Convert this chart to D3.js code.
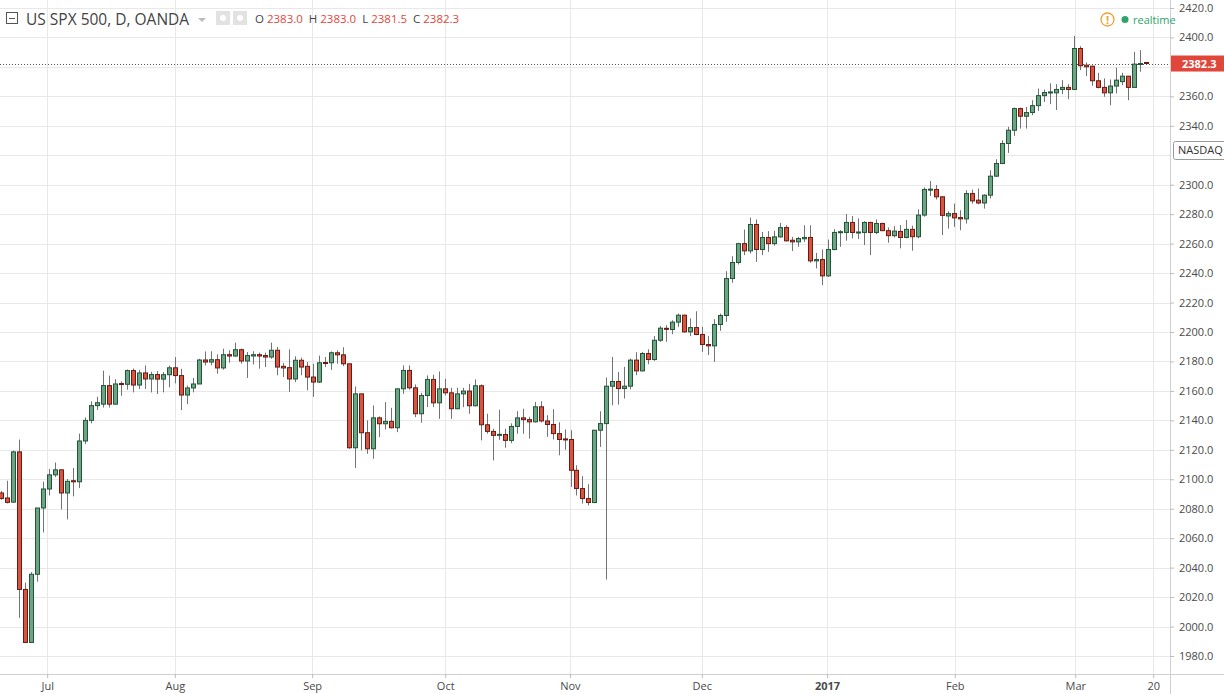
<!DOCTYPE html>
<html><head><meta charset="utf-8">
<script src="https://cdn.jsdelivr.net/npm/d3@7"></script>
<style>body{margin:0;background:#fff;font-family:"Open Sans",Roboto,sans-serif}</style>
</head><body><svg id="c" width="1224" height="694"></svg>
<script>
const opens=[2090.7,2087.3,2084.5,2118.6,2025.2,1989.2,2035.5,2080.5,2093.4,2103,2106.4,2090.7,2099,2098.3,2126,2140,2150,2151,2163.6,2151,2165,2164.5,2173.8,2164,2172.2,2168.1,2171.1,2168,2171,2175.7,2170.4,2157.2,2162,2164.7,2181,2179.6,2181.2,2175.6,2184.6,2183.7,2188,2180.3,2183.7,2184.6,2184,2183,2187.6,2176.7,2175.8,2168.1,2180.8,2176.7,2169.4,2166,2179.3,2179.1,2185.9,2184.5,2178.4,2121.4,2158,2131.6,2120.7,2141.7,2137.7,2139.3,2135,2161.4,2173.9,2162.1,2144.5,2156.9,2167.8,2151.9,2161.4,2158.7,2147.9,2158,2159.9,2149.9,2163.5,2137,2132.5,2129.9,2130.4,2126.4,2135.9,2141.7,2140.5,2139,2149.2,2139.6,2137.2,2131,2127.4,2127,2106.1,2093.7,2086.9,2084.2,2133.3,2137.8,2163.2,2166.4,2161.6,2163.2,2180.9,2173.6,2185.4,2181.3,2194.4,2202.5,2201.7,2206.7,2211.4,2200.1,2203,2198.3,2191.5,2190.6,2205.1,2211.2,2236.3,2247.2,2260,2255.1,2273,2256,2264.2,2260,2264.6,2270.9,2262.3,2261.2,2263.3,2264.2,2248.3,2249.2,2238.1,2256,2267.4,2267.6,2274.4,2267.6,2267.6,2274.4,2267.6,2273.7,2268.8,2265.4,2268.3,2264.2,2269.7,2264.7,2279.4,2296.7,2296.8,2291.8,2278.8,2280.4,2277.7,2276.8,2294,2289.5,2287.6,2292.9,2305.8,2314.4,2328,2337,2351.7,2346.5,2349,2353.7,2360.5,2362.6,2362.4,2364.7,2366.1,2364.7,2392.5,2381.2,2380.5,2370.6,2366.1,2362.4,2367,2370,2373.7,2366.1,2381.9,2383];
const highs=[2092,2099,2119.5,2127,2029.8,2037,2080.5,2098.4,2107,2111.4,2106.6,2100.2,2107.7,2131,2142,2153,2156,2173.8,2170.4,2168,2166.5,2174.5,2175.2,2174.3,2177.3,2173,2173.5,2172.8,2177.3,2183,2175,2163.6,2168.8,2181.8,2186.8,2186.9,2184.8,2188.7,2187.6,2192.8,2188.7,2186.4,2186.9,2186,2186,2192.8,2189.8,2179,2188.2,2183.5,2182.6,2179.6,2178.5,2184,2183,2186.8,2187.5,2189.7,2178.4,2163,2158,2140,2150.1,2142.7,2152.4,2148.5,2161.4,2177.3,2177.3,2164.4,2158.7,2170.5,2171,2173.2,2168.2,2162.1,2162.1,2162.1,2164.8,2167.8,2164.4,2144.5,2134.3,2147.2,2134.3,2138,2146.3,2147.9,2142.4,2152.5,2153,2143.5,2147.6,2138.7,2133.8,2133.3,2109.5,2102.1,2096.6,2133.3,2146.2,2169.1,2183.1,2172.9,2176.3,2182,2186.3,2186.5,2188.3,2197.2,2204,2204.6,2208,2212.5,2211.8,2209.2,2214.1,2203.5,2197.2,2208.7,2212.5,2241.3,2251.5,2260.5,2269.6,2277.7,2276.4,2268,2268.5,2268.7,2274.1,2272.5,2264.6,2264.6,2272.5,2272.5,2253.7,2256,2262.8,2269.8,2269.2,2280.1,2278.7,2277.1,2275.3,2274.8,2276.5,2274.2,2271,2271.9,2272.6,2276,2272.2,2283.3,2298.2,2302.5,2299.8,2292.2,2282,2287.2,2282.7,2296.3,2296.7,2297.4,2293.5,2309.8,2317.3,2330.2,2339.3,2352.4,2352.4,2352.8,2357.4,2365.3,2364.6,2368.8,2368.3,2371,2368.3,2401.1,2394.1,2383,2380.8,2376,2372.2,2371.5,2379.4,2376,2373.9,2390.3,2391.4,2383];
const lows=[2086,2083.6,2084,2005.9,1989,1989,2030.5,2063.9,2089,2101.4,2079.5,2072.7,2088.4,2094,2124,2138,2147,2148.7,2148.7,2151,2156.7,2160.8,2159,2161.3,2161.3,2159,2157.9,2159,2162.4,2165.2,2146.9,2151,2159,2164.7,2177.3,2177.4,2171.7,2174.4,2179.2,2183.2,2178.5,2168.8,2178,2175.1,2176.2,2181.9,2170.6,2169.4,2159.3,2166,2170.6,2160.4,2155.9,2165.3,2176.2,2174.3,2178.4,2176.8,2120.7,2107.6,2119.6,2117.3,2113.9,2128.6,2133.8,2134.5,2132,2158,2160.8,2142.2,2138.4,2149,2149,2141,2156.9,2141,2147.5,2149,2144.5,2149.5,2126.4,2130.9,2112.8,2126.8,2121.4,2124.5,2130.9,2130.9,2127.6,2138.6,2138.6,2128.8,2127,2116.3,2120,2094.8,2089,2083.5,2082.2,2083.8,2122,2031.9,2150.3,2150.7,2154.8,2161,2170.7,2173.2,2178.1,2180.4,2193.3,2193.3,2198.5,2203.5,2199.4,2197.2,2197.8,2186.5,2184.3,2179.7,2200.8,2206.9,2233.4,2245.8,2252.2,2253.3,2247.6,2252.2,2254.4,2258.5,2264,2261.5,2255,2257.8,2261.2,2247,2243.1,2231.8,2237.4,2255.5,2257.9,2262,2263.6,2263.1,2259,2252.2,2266.5,2268.5,2260.6,2264.2,2256.8,2263.6,2255.2,2263.6,2278.3,2292.3,2290,2265.8,2270.2,2271.4,2269.1,2273.6,2287.2,2286.7,2283.8,2290.6,2305.3,2314,2321.6,2333.1,2338.1,2338.1,2347.2,2350.1,2356.2,2354.7,2350.7,2361.5,2358.1,2364.5,2377.8,2373.7,2367.2,2365.4,2359.7,2354,2362,2367.6,2357.4,2365.8,2376.7,2381.5];
const closes=[2087,2084.3,2118.6,2025.2,1989.2,2035.5,2080.5,2093.4,2103,2106.4,2090.7,2098.6,2098.3,2126,2140,2150,2152,2163.6,2151,2164.7,2164.5,2173.8,2164,2172.2,2168.1,2171.1,2168,2171,2175.7,2170.4,2157.2,2162,2164.7,2181,2179.6,2181.2,2175.6,2184.6,2183.7,2188,2180.3,2184,2184.6,2183.7,2183,2187.6,2176.2,2175.6,2168.1,2180.8,2176.2,2169.4,2166,2179.1,2179,2185.9,2184.5,2178.4,2121.4,2158,2131.6,2120.7,2141.7,2137.7,2139.3,2135,2161.4,2173.9,2162.1,2144.5,2156.9,2167.8,2151.9,2161.4,2158.7,2147.9,2158,2159.9,2149.9,2163.5,2137,2132.5,2129.8,2130.5,2126.4,2135.9,2141.7,2140.5,2139,2149.2,2139.6,2137.2,2131,2127,2127.1,2106.1,2093.7,2086.9,2084.2,2133.3,2137.8,2163.2,2166.4,2161.6,2163.2,2180.9,2173.6,2185.4,2181.3,2194.4,2202.6,2202.2,2206.7,2211.4,2200.1,2203,2198.3,2191.5,2190.6,2205.1,2211.2,2236.3,2247.2,2260,2255.1,2273,2256,2264.2,2260,2264.6,2270.9,2261.9,2261.2,2263.5,2264.2,2248.3,2249.2,2238.1,2256,2267.6,2268.1,2274.4,2267.6,2267.9,2274.4,2267.6,2273.7,2268.8,2265.4,2268.5,2264.2,2269.7,2264.7,2279.4,2296.8,2297,2291.8,2279.2,2280.4,2277.5,2276.8,2294,2289,2287.6,2292.9,2305.8,2314.4,2328,2337,2351.7,2346.5,2349,2353.7,2360.5,2362.6,2363,2364.7,2366.1,2364.7,2392.5,2380.8,2380.1,2370.6,2366.1,2362.4,2367,2371,2373.7,2366.1,2381.9,2382.3,2382.3];
const monthLabels=["Jul","Aug","Sep","Oct","Nov","Dec","2017","Feb","Mar","20"];
const monthIdx=[7.7,29,51.9,74.1,94.9,116.9,137.8,159.1,179.2,192.2];
const priceTicks=d3.range(1980,2421,20);
const hiddenTicks=[2380,2320];
const lastPrice=2382.3;

const svg=d3.select("#c");
const plotR=1170, plotB=674;
const x=d3.scaleLinear().domain([0,opens.length-1]).range([1,1146]);
const y=d3.scaleLinear().domain([1980,2420]).range([656,8]);

svg.append("g").selectAll("line").data(priceTicks).join("line")
 .attr("x1",0).attr("x2",plotR).attr("y1",d=>Math.round(y(d))+0.5).attr("y2",d=>Math.round(y(d))+0.5)
 .attr("stroke","#e8e8e8");
svg.append("g").selectAll("line").data(monthIdx).join("line")
 .attr("x1",d=>Math.round(x(d))+0.5).attr("x2",d=>Math.round(x(d))+0.5).attr("y1",0).attr("y2",plotB)
 .attr("stroke","#e8e8e8");

svg.append("line").attr("x1",plotR+0.5).attr("x2",plotR+0.5).attr("y1",0).attr("y2",694).attr("stroke","#d0d0d0");
svg.append("line").attr("x1",0).attr("x2",1224).attr("y1",plotB+0.5).attr("y2",plotB+0.5).attr("stroke","#d0d0d0");

const shown=priceTicks.filter(t=>!hiddenTicks.includes(t));
const ya=d3.axisRight(y).tickValues(shown).tickFormat(d=>d.toFixed(1)).tickSize(4);
const ga=svg.append("g").attr("transform",`translate(${plotR},0)`).call(ya);
ga.select(".domain").remove();
ga.selectAll("line").attr("stroke","#bbb");
ga.selectAll("text").attr("x",9).attr("fill","#4a4a4a").style("font-size","11px").style("font-family","Open Sans, sans-serif");

const xa=d3.axisBottom(x).tickValues(monthIdx).tickFormat((d,i)=>monthLabels[i]).tickSize(4);
const gx=svg.append("g").attr("transform",`translate(0,${plotB})`).call(xa);
gx.select(".domain").remove();
gx.selectAll("line").attr("stroke","#bbb");
gx.selectAll("text").attr("y",8).attr("fill","#4a4a4a").style("font-size","11px").style("font-family","Open Sans, sans-serif")
 .style("font-weight",(d,i)=>monthLabels[i]==="2017"?"bold":"normal");

svg.append("line").attr("x1",0).attr("x2",plotR).attr("y1",Math.round(y(lastPrice))+0.5).attr("y2",Math.round(y(lastPrice))+0.5)
 .attr("stroke","#555").attr("stroke-dasharray","1,2");

const data=opens.map((o,i)=>({i,o,h:highs[i],l:lows[i],c:closes[i]}));
const g=svg.append("g");
g.selectAll("line").data(data).join("line")
 .attr("x1",d=>Math.round(x(d.i))+0.5).attr("x2",d=>Math.round(x(d.i))+0.5)
 .attr("y1",d=>y(d.h)).attr("y2",d=>y(d.l)).attr("stroke","#737375");
g.selectAll("rect").data(data).join("rect")
 .attr("x",d=>Math.round(x(d.i))-1.5).attr("width",4)
 .attr("y",d=>y(Math.max(d.o,d.c))).attr("height",d=>Math.max(1,Math.abs(y(d.o)-y(d.c))))
 .attr("fill",d=>d.c>=d.o?"#6ba583":"#d75442")
 .attr("stroke",d=>d.c>=d.o?"#225437":"#6b1a12").attr("stroke-width",1);

const py=y(lastPrice);
svg.append("rect").attr("x",plotR+1).attr("y",py-8).attr("width",54).attr("height",16).attr("fill","#e0473a");
svg.append("text").attr("x",plotR+12).attr("y",py+4).text(lastPrice.toFixed(1)).attr("fill","#fff")
 .style("font-size","11px").style("font-weight","bold");
svg.append("rect").attr("x",plotR+3.5).attr("y",141.5).attr("width",60).attr("height",18).attr("fill","#fff").attr("stroke","#999").attr("rx",2);
svg.append("text").attr("x",plotR+8).attr("y",154).text("NASDAQ").attr("fill","#333").style("font-size","11px");

svg.append("rect").attr("x",6.5).attr("y",12.5).attr("width",11).attr("height",11).attr("fill","none").attr("stroke","#555");
svg.append("line").attr("x1",9).attr("x2",15).attr("y1",18.5).attr("y2",18.5).attr("stroke","#555");
svg.append("text").attr("x",26).attr("y",25).text("US SPX 500, D, OANDA").attr("fill","#444").style("font-size","15.5px");
svg.append("path").attr("d","M198,18 L206,18 L202,22 Z").attr("fill","#bbb");
svg.append("rect").attr("x",216).attr("y",11).attr("width",14).attr("height",14).attr("fill","#e2e2e2");
svg.append("rect").attr("x",233).attr("y",11).attr("width",14).attr("height",14).attr("fill","#e2e2e2");
svg.append("circle").attr("cx",223).attr("cy",18).attr("r",3).attr("fill","#fff");
svg.append("circle").attr("cx",240).attr("cy",18).attr("r",3).attr("fill","#fff");
const ohlc=[["O","2383.0"],["H","2383.0"],["L","2381.5"],["C","2382.3"]];
const ht=svg.append("text").attr("x",255).attr("y",23).style("font-size","11.5px").attr("xml:space","preserve");
ohlc.forEach(([k,v],i)=>{ht.append("tspan").text((i?"  ":"")+k+" ").attr("fill","#444");ht.append("tspan").text(v).attr("fill","#e0473a");});
svg.append("circle").attr("cx",1107.5).attr("cy",19.5).attr("r",6.5).attr("fill","none").attr("stroke","#f0a030").attr("stroke-width",1.3);
svg.append("text").attr("x",1107.5).attr("y",23.5).attr("text-anchor","middle").text("!").attr("fill","#f0a030").style("font-size","11px").style("font-weight","bold");
svg.append("circle").attr("cx",1125).attr("cy",19.5).attr("r",3.5).attr("fill","#2ea36b");
svg.append("text").attr("x",1133).attr("y",23.5).text("realtime").attr("fill","#2ea36b").style("font-size","11px");
</script></body></html>
